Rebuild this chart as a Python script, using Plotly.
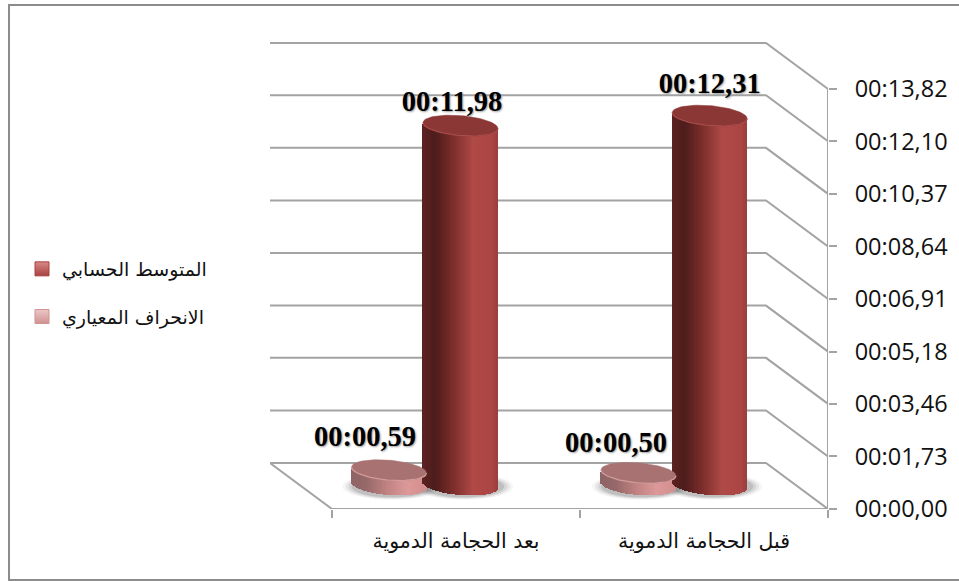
import numpy as np
import plotly.graph_objects as go

categories = ["بعد الحجامة الدموية", "قبل الحجامة الدموية"]
mean_values = [11.98, 12.31]
sd_values = [0.59, 0.50]
mean_labels = ["00:11,98", "00:12,31"]
sd_labels = ["00:00,59", "00:00,50"]
series_names = ["المتوسط الحسابي", "الانحراف المعياري"]
tick_values = [0, 1.73, 3.46, 5.18, 6.91, 8.64, 10.37, 12.10, 13.82]
tick_labels = ["00:00,00", "00:01,73", "00:03,46", "00:05,18", "00:06,91",
               "00:08,64", "00:10,37", "00:12,10", "00:13,82"]

# page geometry
L, R, T, B = 270, 131, 38, 72
W, H = 959, 581
PX_X = 248.0          # px per category
PX_Y = 30.39          # px per second
XR = [-62 / PX_X, 2]
YR = [0, (H - B - T) / PX_Y]
DX = -62 / PX_X
DY = 46 / PX_Y
GRID = "#a3a3a3"
PLOT_W, PLOT_H = W - L - R, H - B - T
Y0_PX = H - B

BASE = 24 / PX_Y
EH = 10 / PX_Y
HW = 37.5 / PX_X
TILT = 3 / PX_Y


def hex2rgb(h):
    return np.array([int(h[i:i + 2], 16) for i in (1, 3, 5)], float)


def ramp(stops, ts):
    xs = [s[0] for s in stops]
    cols = np.array([hex2rgb(s[1]) for s in stops])
    return ["rgb(%d,%d,%d)" % tuple(np.interp(t, xs, cols[:, i]) for i in range(3)) for t in ts]


DARK = [(-1, "#5c2322"), (-0.65, "#4e1c1c"), (-0.1, "#84322f"), (0.35, "#b04a47"),
        (0.85, "#ab4644"), (1, "#9c3f3d")]
PINK = [(-1, "#8f6464"), (-0.6, "#96696a"), (0, "#c48484"), (0.5, "#dd9999"), (1, "#d48e8e")]

fig = go.Figure()

# back wall + side gridlines
for v in tick_values:
    fig.add_trace(go.Scatter(x=[XR[0], 2 + DX, 2], y=[v + DY, v + DY, v], mode="lines",
                             line=dict(color=GRID, width=2), hoverinfo="skip",
                             showlegend=False, cliponaxis=False))
# floor outline and right axis
fig.add_trace(go.Scatter(x=[XR[0], 0, 2], y=[DY, 0, 0], mode="lines",
                         line=dict(color=GRID, width=2), showlegend=False, cliponaxis=False))
fig.add_trace(go.Scatter(x=[2, 2], y=[tick_values[0], tick_values[-1]], mode="lines",
                         line=dict(color=GRID, width=2), showlegend=False, cliponaxis=False))


def ell(cx, cy, hw, eh, tilt=0.0):
    a = np.linspace(0, 2 * np.pi, 80)
    c = np.cos(a)
    return cx + hw * c, cy + eh * np.sin(a) - tilt * c


def height(v):
    return (30.25 * v - 3) / PX_Y


def cylinder(cx, v, stops, cap, rim):
    h = height(v)
    # soft ground shadow
    for k, al in [(1.32, .05), (1.24, .07), (1.16, .10), (1.08, .14)]:
        xs, ys = ell(cx + 3 / PX_X, BASE - 0.05, HW * k, EH * k, 0)
        fig.add_trace(go.Scatter(x=xs, y=ys, fill="toself", mode="none", showlegend=False,
                                 fillcolor="rgba(60,60,60,%.2f)" % al, hoverinfo="skip"))
    n = 60
    t = (np.arange(n) + .5) / n * 2 - 1
    fig.add_trace(go.Bar(x=cx + HW * t, y=np.full(n, h),
                         base=BASE - EH * np.sqrt(1 - t ** 2) - TILT * t,
                         width=np.full(n, 2 * HW / n * 1.12),
                         marker=dict(color=ramp(stops, t), line=dict(width=0)),
                         xaxis="x2", yaxis="y2", showlegend=False, hoverinfo="skip"))
    xs, ys = ell(cx, BASE + h, HW, EH, TILT)
    fig.add_trace(go.Scatter(x=xs, y=ys, fill="toself", mode="lines", fillcolor=cap,
                             line=dict(color=cap, width=0.5), xaxis="x2", yaxis="y2",
                             showlegend=False, hoverinfo="skip"))
    a = np.linspace(np.pi, 2 * np.pi, 40)
    fig.add_trace(go.Scatter(x=cx + HW * np.cos(a), y=BASE + h + EH * np.sin(a) - TILT * np.cos(a),
                             mode="lines", line=dict(color=rim, width=1.2), xaxis="x2", yaxis="y2",
                             showlegend=False, hoverinfo="skip"))


centers_sd = [57 / PX_X, 306.5 / PX_X]
centers_mean = [128.5 / PX_X, 377.7 / PX_X]
for i in range(2):
    cylinder(centers_sd[i], sd_values[i], PINK, "#a97272", "#d49c9c")
    cylinder(centers_mean[i], mean_values[i], DARK, "#8b3735", "#a84a48")

# value labels
lab_dx = np.array([-8.5, 0, -24, -22.5]) / PX_X
lab_dy = np.array([22, 30, 31, 28]) / PX_Y
lab_x = np.array(centers_mean + centers_sd) + lab_dx
lab_y = np.array([BASE + height(v) for v in mean_values + sd_values]) + lab_dy
fig.add_trace(go.Scatter(x=lab_x, y=lab_y, mode="text", text=mean_labels + sd_labels,
                         textposition="middle center", cliponaxis=False,
                         textfont=dict(family="Liberation Serif", size=28.5, color="#000000",
                                       weight="bold", shadow="1px 1px 2px #999999"),
                         xaxis="x2", yaxis="y2", showlegend=False, hoverinfo="skip"))

# legend entries
for name, col, edge, grp in [(series_names[0], "#a84240", "#d98a88", "a"),
                             (series_names[1], "#cf9190", "#ecc8c8", "b")]:
    fig.add_trace(go.Scatter(x=[None], y=[None], mode="markers", name=name, legendgroup=grp,
                             marker=dict(symbol="square", size=14, color=edge,
                                         gradient=dict(type="vertical", color=col),
                                         line=dict(color=col, width=1))))

axis_font = dict(family="Open Sans", size=23.5, color="#111111")
fig.update_layout(
    width=W, height=H, autosize=False,
    margin=dict(l=L, r=R, t=T, b=B),
    paper_bgcolor="white", plot_bgcolor="white",
    barmode="overlay", bargap=0,
    xaxis=dict(range=XR, domain=[0, 1], showgrid=False, zeroline=False, showline=False,
               tickmode="array", tickvals=[0.5, 1.5], ticktext=categories, ticks="",
               ticklabelstandoff=17,
               tickfont=dict(family="DejaVu Sans", size=20.5, color="#111111"),
               minor=dict(tickmode="array", tickvals=[0, 1, 2], ticks="outside", ticklen=8,
                          tickwidth=2, tickcolor=GRID, showgrid=False)),
    yaxis=dict(range=YR, domain=[0, 1], side="right", anchor="x", showgrid=False, zeroline=False,
               showline=False, tickmode="array", tickvals=tick_values, ticktext=tick_labels,
               ticks="outside", ticklen=8, tickwidth=2, tickcolor=GRID,
               ticklabelstandoff=13, tickfont=axis_font),
    xaxis2=dict(range=XR, overlaying="x", visible=False),
    yaxis2=dict(range=YR, overlaying="y", visible=False),
    legend=dict(x=(22 - L) / PLOT_W, xanchor="left", y=(Y0_PX - 250) / PLOT_H, yanchor="top",
                font=dict(family="DejaVu Sans", size=19, color="#111111"),
                tracegroupgap=20, bgcolor="rgba(0,0,0,0)", itemclick=False, itemdoubleclick=False),
    shapes=[dict(type="rect", xref="paper", yref="paper",
                 x0=(9 - L) / PLOT_W, x1=(975 - L) / PLOT_W,
                 y0=(Y0_PX - 580) / PLOT_H, y1=(Y0_PX - 5) / PLOT_H,
                 line=dict(color="#8c8c8c", width=2), fillcolor="rgba(0,0,0,0)", layer="below")],
)
fig.write_html("out.html", config=dict(displayModeBar=False),
               post_script="document.body.style.margin='0';document.body.style.overflow='hidden';")
